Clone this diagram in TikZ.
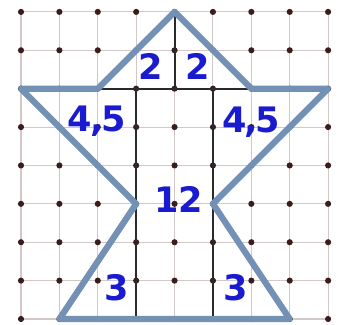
\documentclass[tikz,border=0pt]{standalone}
\usepackage{fontspec}
\setmainfont{DejaVu Sans}
\usepackage{xcolor}
\usetikzlibrary{calc}
\definecolor{gridline}{HTML}{D2C8C8}
\definecolor{dotink}{HTML}{3A1C1C}
\definecolor{outline}{HTML}{7391B4}
\definecolor{cutline}{HTML}{2A2A2A}
\definecolor{numblue}{HTML}{1A1ACF}

\newcommand{\tightcomma}{\kern-1.5pt,\kern-1.5pt}

\begin{document}
\begin{tikzpicture}[
  x=1cm, y=1cm,
  gridrule/.style={draw=gridline, line width=0.8pt},
  griddot/.style={fill=dotink},
  cut/.style={draw=cutline, line width=1.5pt},
  star/.style={draw=outline, line width=4.6pt, line join=round, line cap=round},
  num/.style={font=\bfseries\fontsize{26}{26}\selectfont, text=numblue, inner sep=0pt}
]
\useasboundingbox (-0.547,-0.156) rectangle (8.31,8.31);

% squared paper
\foreach \i in {0,...,8} {
  \draw[gridrule] (\i,0) -- (\i,8);
  \draw[gridrule] (0,\i) -- (8,\i);
}
\foreach \i in {0,...,8}
  \foreach \j in {0,...,8}
    \fill[griddot] (\i,\j) circle (0.08);

\coordinate (apex) at (4,8);
\coordinate (tl)   at (2,6);
\coordinate (al)   at (0,6);
\coordinate (wl)   at (3,3);
\coordinate (fl)   at (1,0);
\coordinate (fr)   at (7,0);
\coordinate (wr)   at (5,3);
\coordinate (ar)   at (8,6);
\coordinate (tr)   at (6,6);

% cuts into pieces
\draw[cut] (apex) -- (4,6);
\draw[cut] (tl) -- (tr);
\draw[cut] (3,6) -- (3,0);
\draw[cut] (5,6) -- (5,0);

\draw[star] (apex) -- (tl) -- (al) -- (wl) -- (fl) -- (fr) -- (wr) -- (ar) -- (tr) -- cycle;

\node[num] (hl) at (3.39,6.57) {2};
\node[num] (hr) at (4.61,6.57) {2};
\node[num] (al5) at (1.98,5.14) {4\tightcomma 5};
\node[num] (ar5) at (6.00,5.12) {4\tightcomma 5};
\node[num] (body) at (4.11,3.12) {12};
\node[num] (ll) at (2.50,0.82) {3};
\node[num] (lr) at (5.60,0.82) {3};

\end{tikzpicture}
\end{document}
